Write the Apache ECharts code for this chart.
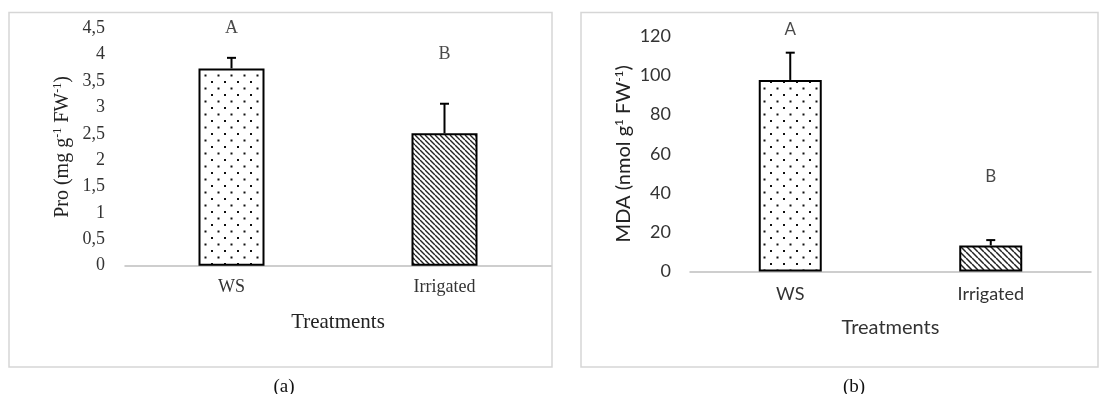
<!DOCTYPE html>
<html>
<head>
<meta charset="utf-8">
<script src="https://cdn.jsdelivr.net/npm/echarts@6/dist/echarts.min.js"></script>
<style>
html,body{margin:0;padding:0;background:#fff;}
#chart{width:1101px;height:394px;}
</style>
</head>
<body>
<div id="chart"></div>
<script>
// ---- data ----
const categories = ['WS', 'Irrigated'];
const proMean = [3.74, 2.51];
const proUpper = [3.94, 3.07];
const proLetters = ['A', 'B'];
const proLetterY = [4.5, 4.0];
const proTicks = { min: 0, max: 4.5, interval: 0.5 };

const mdaMean = [97.6, 13.3];
const mdaUpper = [111.5, 16.0];
const mdaLetters = ['A', 'B'];
const mdaLetterY = [123.5, 48.5];
const mdaTicks = { min: 0, max: 120, interval: 20 };

// ---- patterns ----
function dotPattern() {
  const c = document.createElement('canvas');
  c.width = 13; c.height = 13;
  const g = c.getContext('2d');
  g.fillStyle = '#fff'; g.fillRect(0, 0, 13, 13);
  g.fillStyle = '#111';
  g.fillRect(3, 3, 2, 2);
  g.fillRect(9.5, 9.5, 2, 2);
  return c;
}
function hatchPattern(step, lw) {
  const c = document.createElement('canvas');
  c.width = step; c.height = step;
  const g = c.getContext('2d');
  g.fillStyle = '#fff'; g.fillRect(0, 0, step, step);
  g.strokeStyle = '#222'; g.lineWidth = lw;
  g.beginPath();
  for (let k = -1; k <= 1; k++) {
    g.moveTo(k * step, 0);
    g.lineTo(k * step + step, step);
  }
  g.stroke();
  return c;
}
const dots = { image: dotPattern(), repeat: 'repeat' };
const hatchA = { image: hatchPattern(5, 1.4), repeat: 'repeat' };
const hatchB = { image: hatchPattern(6, 1.5), repeat: 'repeat' };

const serif = '"Liberation Serif", "DejaVu Serif", serif';
const sans = 'Lato, "Liberation Sans", sans-serif';
const txt = '#333';

function errorSeries(xi, yi, mean, upper) {
  return {
    type: 'custom', xAxisIndex: xi, yAxisIndex: yi, z: 5,
    data: mean.map((m, i) => [i, m, upper[i]]),
    renderItem: function (params, api) {
      const p0 = api.coord([api.value(0), api.value(1)]);
      const p1 = api.coord([api.value(0), api.value(2)]);
      const hw = 4.5;
      return {
        type: 'group',
        children: [
          { type: 'line', shape: { x1: p0[0], y1: p0[1], x2: p1[0], y2: p1[1] }, style: { stroke: '#000', lineWidth: 2 } },
          { type: 'line', shape: { x1: p1[0] - hw, y1: p1[1], x2: p1[0] + hw, y2: p1[1] }, style: { stroke: '#000', lineWidth: 2 } }
        ]
      };
    }
  };
}
function letterSeries(xi, yi, ys, letters, font, size) {
  return {
    type: 'scatter', xAxisIndex: xi, yAxisIndex: yi, symbolSize: 1, clip: false,
    itemStyle: { color: 'rgba(0,0,0,0)' },
    data: ys.map((y, i) => [i, y]),
    label: {
      show: true, position: 'inside', color: '#1a1a1a', fontFamily: font, fontSize: size,
      formatter: p => letters[p.dataIndex]
    },
    silent: true
  };
}

const chart = echarts.init(document.getElementById('chart'), null, { renderer: 'canvas' });
chart.setOption({
  backgroundColor: '#fff',
  animation: false,
  title: [
    { text: '(a)', left: 279, top: 373, textAlign: 'center', textStyle: { fontFamily: serif, fontSize: 19, fontWeight: 'normal', color: '#111' } },
    { text: '(b)', left: 849, top: 373, textAlign: 'center', textStyle: { fontFamily: serif, fontSize: 19, fontWeight: 'normal', color: '#111' } }
  ],
  graphic: [
    { type: 'rect', shape: { x: 9, y: 12.5, width: 543, height: 354.5 }, style: { fill: 'none', stroke: '#d6d6d6', lineWidth: 1.5 }, silent: true },
    { type: 'rect', shape: { x: 581, y: 12.5, width: 517, height: 354.5 }, style: { fill: 'none', stroke: '#d6d6d6', lineWidth: 1.5 }, silent: true }
  ],
  grid: [
    { left: 125, top: 28.3, width: 426, height: 237.4 },
    { left: 690, top: 36, width: 401, height: 235.5 }
  ],
  xAxis: [
    {
      type: 'category', gridIndex: 0, data: categories,
      axisLine: { lineStyle: { color: '#bfbfbf', width: 1.5 } }, axisTick: { show: false },
      axisLabel: { margin: 13, color: txt, fontFamily: serif, fontSize: 18 },
      name: 'Treatments', nameLocation: 'middle', nameGap: 46,
      nameTextStyle: { color: '#222', fontFamily: serif, fontSize: 21 }
    },
    {
      type: 'category', gridIndex: 1, data: categories,
      axisLine: { lineStyle: { color: '#bfbfbf', width: 1.5 } }, axisTick: { show: false },
      axisLabel: { margin: 14, color: txt, fontFamily: sans, fontSize: 18 },
      name: 'Treatments', nameLocation: 'middle', nameGap: 46,
      nameTextStyle: { color: txt, fontFamily: sans, fontSize: 20 }
    }
  ],
  yAxis: [
    {
      type: 'value', gridIndex: 0, min: proTicks.min, max: proTicks.max, interval: proTicks.interval,
      axisLine: { show: false }, axisTick: { show: false }, splitLine: { show: false },
      axisLabel: { margin: 20, color: txt, fontFamily: serif, fontSize: 18, formatter: v => String(v).replace('.', ',') },
      name: 'Pro (mg g{s|-1} FW{s|-1})', nameLocation: 'middle', nameGap: 51,
      nameTextStyle: {
        color: '#222', fontFamily: serif, fontSize: 20, lineHeight: 22,
        rich: { s: { fontFamily: serif, fontSize: 12, lineHeight: 13, verticalAlign: 'top', color: '#222' } }
      }
    },
    {
      type: 'value', gridIndex: 1, min: mdaTicks.min, max: mdaTicks.max, interval: mdaTicks.interval,
      axisLine: { show: false }, axisTick: { show: false }, splitLine: { show: false },
      axisLabel: { margin: 19, color: txt, fontFamily: sans, fontSize: 18 },
      name: 'MDA (nmol g{s|1} FW{s|-1})', nameLocation: 'middle', nameGap: 55,
      nameTextStyle: {
        color: '#222', fontFamily: sans, fontSize: 20, lineHeight: 22,
        rich: { s: { fontFamily: sans, fontSize: 12, lineHeight: 13, verticalAlign: 'top', color: '#222' } }
      }
    }
  ],
  series: [
    {
      type: 'bar', xAxisIndex: 0, yAxisIndex: 0, barWidth: 66,
      data: proMean.map((v, i) => ({ value: v, itemStyle: { color: i === 0 ? dots : hatchA } })),
      itemStyle: { borderColor: '#000', borderWidth: 2 }
    },
    errorSeries(0, 0, proMean, proUpper),
    letterSeries(0, 0, proLetterY, proLetters, serif, 18),
    {
      type: 'bar', xAxisIndex: 1, yAxisIndex: 1, barWidth: 63,
      data: mdaMean.map((v, i) => ({ value: v, itemStyle: { color: i === 0 ? dots : hatchB } })),
      itemStyle: { borderColor: '#000', borderWidth: 2 }
    },
    errorSeries(1, 1, mdaMean, mdaUpper),
    letterSeries(1, 1, mdaLetterY, mdaLetters, sans, 17)
  ]
});
</script>
</body>
</html>
